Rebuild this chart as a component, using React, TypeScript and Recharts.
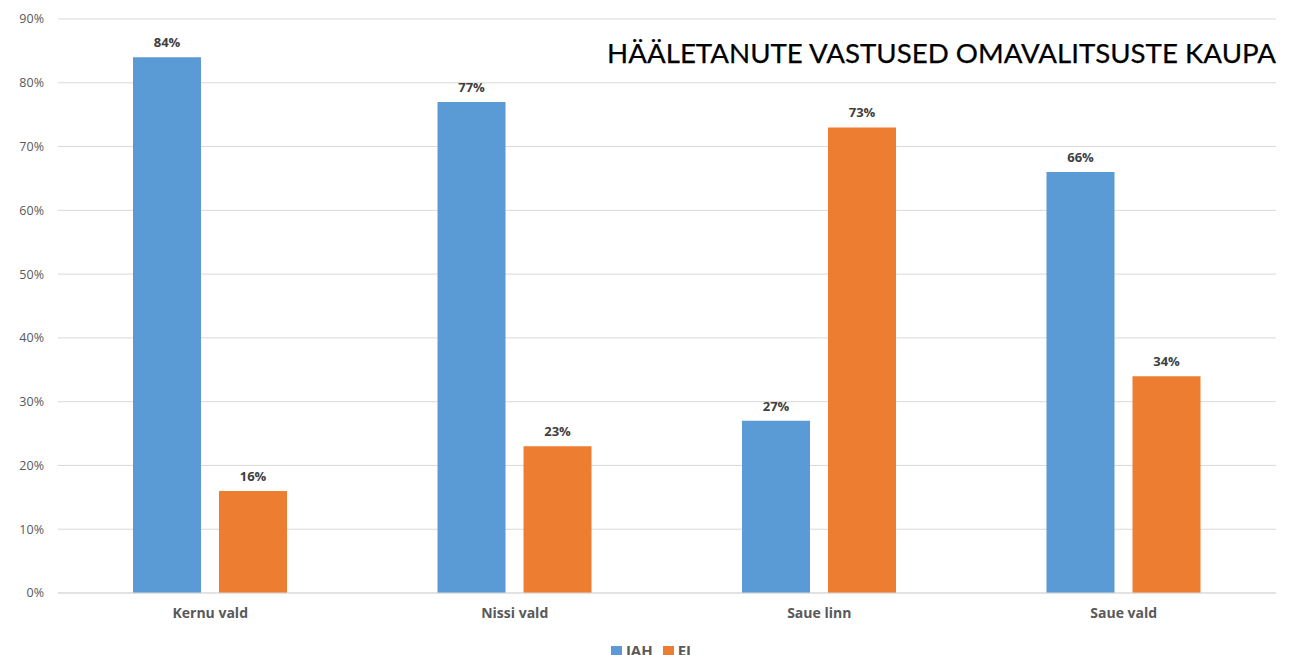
import React from 'react';
import { BarChart, Bar, XAxis, YAxis, CartesianGrid, Legend, LabelList } from 'recharts';

const categories = ['Kernu vald', 'Nissi vald', 'Saue linn', 'Saue vald'];
const jahValues = [84, 77, 27, 66];
const eiValues = [16, 23, 73, 34];
const yTicks = [0, 10, 20, 30, 40, 50, 60, 70, 80, 90];
const seriesOrder = ['JAH', 'EI'];
const title = 'HÄÄLETANUTE VASTUSED OMAVALITSUSTE KAUPA';

const data = categories.map((c, i) => ({ name: c, JAH: jahValues[i], EI: eiValues[i] }));

const font = '"Open Sans", "Noto Sans", sans-serif';

export default function App() {
  return (
    <div style={{ position: 'absolute', left: 0, top: 0, width: 1295, height: 655, overflow: 'hidden', background: '#fff' }}>
      <BarChart
        width={1295}
        height={660}
        data={data}
        margin={{ top: 19, right: 19, left: 0, bottom: 0 }}
        barCategoryGap={75}
        barGap={18}
      >
        <CartesianGrid vertical={false} stroke="#d9d9d9" />
        <XAxis
          dataKey="name"
          axisLine={{ stroke: '#d9d9d9' }}
          tickLine={false}
          tickSize={0}
          tickMargin={15}
          height={47}
          tick={{ fill: '#595959', fontSize: 14, fontWeight: 700, fontFamily: font }}
        />
        <YAxis
          width={58}
          domain={[0, 90]}
          ticks={yTicks}
          axisLine={false}
          tickLine={false}
          tickSize={0}
          tickMargin={14}
          tickFormatter={(v) => `${v}%`}
          tick={{ fill: '#595959', fontSize: 12.5, fontFamily: font }}
        />
        <Legend
          verticalAlign="bottom"
          iconType="square"
          iconSize={11}
          itemSorter={(item: any) => seriesOrder.indexOf(item.value)}
          wrapperStyle={{ fontFamily: font, fontSize: 15, fontWeight: 700, left: 18 }}
          formatter={(value) => <span style={{ color: '#595959' }}>{value}</span>}
        />
        <Bar dataKey="JAH" fill="#5B9BD5" isAnimationActive={false}>
          <LabelList dataKey="JAH" position="top" offset={10} formatter={(v) => `${v}%`} style={{ fill: '#404040', fontSize: 13, fontWeight: 700, fontFamily: font }} />
        </Bar>
        <Bar dataKey="EI" fill="#ED7D31" isAnimationActive={false}>
          <LabelList dataKey="EI" position="top" offset={10} formatter={(v) => `${v}%`} style={{ fill: '#404040', fontSize: 13, fontWeight: 700, fontFamily: font }} />
        </Bar>
      </BarChart>
      <div
        style={{
          position: 'absolute',
          right: 19,
          top: 39,
          fontFamily: 'Lato, "Open Sans", sans-serif',
          fontSize: 27.7,
          color: '#000',
          whiteSpace: 'nowrap',
          lineHeight: 1,
          WebkitTextStroke: '0.25px #000',
        }}
      >
        {title}
      </div>
    </div>
  );
}
